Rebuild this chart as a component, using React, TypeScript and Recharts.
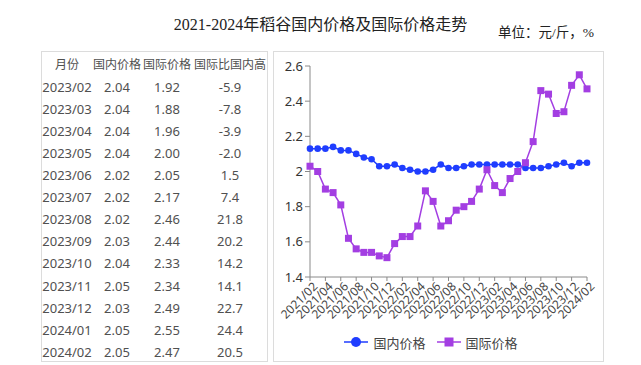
import React from "react";
import { LineChart, Line, XAxis, YAxis, Legend } from "recharts";

// 2021/02 - 2024/02, monthly
const months = [
  "2021/02", "2021/03", "2021/04", "2021/05", "2021/06", "2021/07", "2021/08",
  "2021/09", "2021/10", "2021/11", "2021/12", "2022/01", "2022/02", "2022/03",
  "2022/04", "2022/05", "2022/06", "2022/07", "2022/08", "2022/09", "2022/10",
  "2022/11", "2022/12", "2023/01", "2023/02", "2023/03", "2023/04", "2023/05",
  "2023/06", "2023/07", "2023/08", "2023/09", "2023/10", "2023/11", "2023/12",
  "2024/01", "2024/02",
];

const domesticPrice = [
  2.13, 2.13, 2.13, 2.14, 2.12, 2.12, 2.1, 2.08, 2.07, 2.03, 2.03, 2.04, 2.02,
  2.01, 2.0, 2.0, 2.01, 2.04, 2.02, 2.02, 2.03, 2.04, 2.04, 2.04, 2.04, 2.04,
  2.04, 2.04, 2.02, 2.02, 2.02, 2.03, 2.04, 2.05, 2.03, 2.05, 2.05,
];

const intlPrice = [
  2.03, 2.0, 1.9, 1.88, 1.81, 1.62, 1.56, 1.54, 1.54, 1.52, 1.51, 1.59, 1.63,
  1.63, 1.69, 1.89, 1.83, 1.69, 1.72, 1.78, 1.8, 1.83, 1.9, 2.01, 1.92, 1.88,
  1.96, 2.0, 2.05, 2.17, 2.46, 2.44, 2.33, 2.34, 2.49, 2.55, 2.47,
];

const yTicks = [1.4, 1.6, 1.8, 2.0, 2.2, 2.4, 2.6];

// table on the left
const tableHeaders = ["月份", "国内价格", "国际价格", "国际比国内高"];
const tableMonths = [
  "2023/02", "2023/03", "2023/04", "2023/05", "2023/06", "2023/07", "2023/08",
  "2023/09", "2023/10", "2023/11", "2023/12", "2024/01", "2024/02",
];
const tableDomestic = [
  "2.04", "2.04", "2.04", "2.04", "2.02", "2.02", "2.02", "2.03", "2.04",
  "2.05", "2.03", "2.05", "2.05",
];
const tableIntl = [
  "1.92", "1.88", "1.96", "2.00", "2.05", "2.17", "2.46", "2.44", "2.33",
  "2.34", "2.49", "2.55", "2.47",
];
const tableGap = [
  "-5.9", "-7.8", "-3.9", "-2.0", "1.5", "7.4", "21.8", "20.2", "14.2",
  "14.1", "22.7", "24.4", "20.5",
];

const BLUE = "#1f3dff";
const PURPLE = "#a33ee2";
const SANS = '"Noto Sans", "Noto Sans CJK SC", sans-serif';
const SERIF = '"Liberation Serif", "Noto Sans CJK SC", serif';

const chartData = months.map((m, i) => ({
  month: m,
  domestic: domesticPrice[i],
  intl: intlPrice[i],
}));

const colCenters = [25, 75, 125, 188];

function PriceTable() {
  const rows = [tableHeaders].concat(
    tableMonths.map((m, i) => [m, tableDomestic[i], tableIntl[i], tableGap[i]])
  );
  return (
    <div
      style={{
        position: "absolute",
        left: 41,
        top: 51,
        width: 225,
        height: 309,
        border: "1px solid #dcdcdc",
        fontFamily: SANS,
        color: "#505050",
      }}
    >
      {rows.map((row, r) =>
        row.map((cell, c) => (
          <div
            key={r + "-" + c}
            style={{
              position: "absolute",
              top: 12.5 + 22.1 * r - 11,
              left: colCenters[c] - 40,
              width: 80,
              height: 22,
              lineHeight: "22px",
              textAlign: "center",
              fontSize: r === 0 ? 12 : 13,
              whiteSpace: "nowrap",
            }}
          >
            {cell}
          </div>
        ))
      )}
    </div>
  );
}

const AngleTick = (props: any) => {
  const { x, y, payload } = props;
  return (
    <g transform={`translate(${x + 4},${y})`}>
      <text
        x={0}
        y={0}
        dy={6}
        textAnchor="end"
        transform="rotate(-45)"
        fontSize={12}
        fill="#444"
        fontFamily={SANS}
      >
        {payload.value}
      </text>
    </g>
  );
};

const SquareDot = (props: any) => {
  const { cx, cy, index } = props;
  if (cx == null || cy == null) return <g key={"sq" + index} />;
  return <rect key={"sq" + index} x={cx - 3.5} y={cy - 3.5} width={7} height={7} fill={PURPLE} />;
};

const LegendBox = () => (
  <div
    style={{
      display: "flex",
      justifyContent: "center",
      alignItems: "center",
      height: 30,
      fontFamily: SANS,
      fontSize: 13,
      color: "#444",
    }}
  >
    <svg width={26} height={14} style={{ marginRight: 4 }}>
      <line x1={1} y1={7} x2={25} y2={7} stroke={BLUE} strokeWidth={1.5} />
      <circle cx={13} cy={7} r={5} fill={BLUE} />
    </svg>
    <span style={{ marginRight: 10 }}>国内价格</span>
    <svg width={26} height={14} style={{ marginRight: 4 }}>
      <line x1={1} y1={7} x2={25} y2={7} stroke={PURPLE} strokeWidth={1.5} />
      <rect x={8.5} y={2.5} width={9} height={9} fill={PURPLE} />
    </svg>
    <span>国际价格</span>
  </div>
);

export default function App() {
  return (
    <div
      style={{
        position: "absolute",
        left: 0,
        top: 0,
        width: 641,
        height: 365,
        background: "#fff",
        overflow: "hidden",
      }}
    >
      <div
        style={{
          position: "absolute",
          left: 0,
          width: 641,
          top: 11,
          textAlign: "center",
          fontFamily: SERIF,
          fontSize: 16,
          color: "#222",
        }}
      >
        2021-2024年稻谷国内价格及国际价格走势
      </div>
      <div
        style={{
          position: "absolute",
          left: 498,
          top: 21,
          fontFamily: SERIF,
          fontSize: 13.5,
          color: "#222",
        }}
      >
        单位：元/斤，%
      </div>

      <PriceTable />

      <div
        style={{
          position: "absolute",
          left: 273,
          top: 51,
          width: 329,
          height: 309,
          border: "1px solid #dcdcdc",
        }}
      >
        <LineChart
          width={329}
          height={309}
          data={chartData}
          margin={{ top: 14, right: 16, left: 0, bottom: 4 }}
        >
          <XAxis
            dataKey="month"
            interval={1}
            tick={<AngleTick />}
            height={50}
            stroke="#8a8a8a"
            tickSize={4}
          />
          <YAxis
            domain={[1.4, 2.6]}
            ticks={yTicks}
            width={36}
            stroke="#8a8a8a"
            tickSize={5}
            tickMargin={2}
            tick={{ fontSize: 13, fill: "#333", fontFamily: SANS }}
            tickFormatter={(v: number) => String(parseFloat(v.toFixed(1)))}
          />
          <Legend verticalAlign="bottom" content={<LegendBox />} />
          <Line
            type="linear"
            dataKey="domestic"
            stroke={BLUE}
            strokeWidth={1.5}
            dot={{ r: 3.3, fill: BLUE, stroke: BLUE, strokeWidth: 0 }}
            isAnimationActive={false}
          />
          <Line
            type="linear"
            dataKey="intl"
            stroke={PURPLE}
            strokeWidth={1.5}
            dot={<SquareDot />}
            isAnimationActive={false}
          />
        </LineChart>
      </div>
    </div>
  );
}
